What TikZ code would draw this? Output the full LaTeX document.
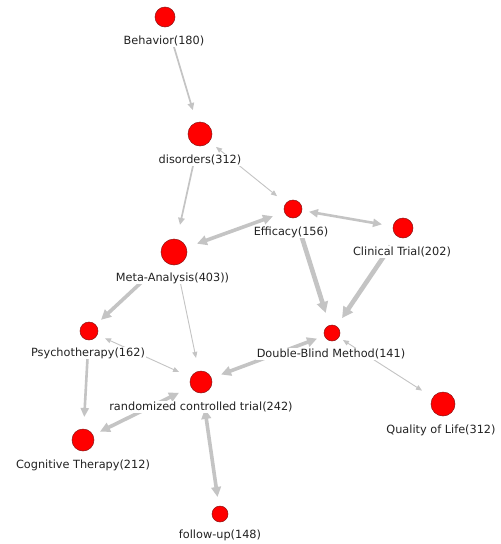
\documentclass[tikz,border=0pt]{standalone}
\usepackage{fontspec}
\setmainfont{DejaVu Sans}
\usetikzlibrary{arrows.meta}
\definecolor{edgegray}{RGB}{196,196,196}
\definecolor{nodered}{RGB}{255,0,0}
\definecolor{nodeedge}{RGB}{140,20,20}
\definecolor{labeltext}{RGB}{34,34,34}
\begin{document}
\begin{tikzpicture}[x=1pt,y=-1pt,
  term/.style={circle,fill=nodered,draw=nodeedge,line width=0.5pt,
    inner sep=0pt,outer sep=0pt,minimum size=#1},
  lab/.style={fill=white,inner sep=0.6pt,text=labeltext,
    font=\fontsize{11.3}{13}\selectfont},
  ew1/.style={draw=edgegray,line width=0.9pt,>={Triangle[length=6pt,width=5pt]}},
  ew2/.style={draw=edgegray,line width=1.7pt,>={Triangle[length=7pt,width=6.5pt]}},
  ew3/.style={draw=edgegray,line width=2.6pt,>={Triangle[length=9pt,width=8pt]}},
  ew4/.style={draw=edgegray,line width=3.6pt,>={Triangle[length=10pt,width=9.5pt]}},
  ew5/.style={draw=edgegray,line width=4.6pt,>={Triangle[length=11pt,width=11pt]}},
]
\fill[white] (0,0) rectangle (501,544);
\useasboundingbox (0,0) rectangle (501,544);

% terms
\node[term=20pt] (beh)  at (165,17)  {};
\node[term=24pt] (dis)  at (200,134) {};
\node[term=18pt] (eff)  at (293,209) {};
\node[term=20pt] (ct)   at (403,228) {};
\node[term=26pt] (meta) at (174,252) {};
\node[term=16pt] (dbm)  at (332,333) {};
\node[term=18pt] (psy)  at (89,331)  {};
\node[term=22pt] (rct)  at (201,382) {};
\node[term=22pt] (cog)  at (83,440)  {};
\node[term=24pt] (qol)  at (443,404) {};
\node[term=16pt] (fu)   at (220,514) {};

% links
\draw[ew2,->,shorten <=14pt,shorten >=13pt]   (beh)  -- (dis);
\draw[ew1,<->,shorten <=8.6pt,shorten >=11.5pt] (dis) -- (eff);
\draw[ew2,->,shorten <=10pt,shorten >=14.8pt] (dis)  -- (meta);
\draw[ew4,<->,shorten <=11.4pt,shorten >=12.3pt] (meta) -- (eff);
\draw[ew3,<->,shorten <=7.2pt,shorten >=11.3pt] (eff) -- (ct);
\draw[ew5,->,shorten <=12pt,shorten >=13pt]   (eff)  -- (dbm);
\draw[ew5,->,shorten <=12pt,shorten >=10pt]   (ct)   -- (dbm);
\draw[ew4,<->,shorten <=17pt,shorten >=7.4pt] (meta) -- (psy);
\draw[ew1,->,shorten <=12pt,shorten >=13.6pt] (meta) -- (rct);
\draw[ew1,<->,shorten <=8.6pt,shorten >=13.1pt] (psy) -- (rct);
\draw[ew3,->,shorten <=12pt,shorten >=12pt]   (psy)  -- (cog);
\draw[ew4,<->,shorten <=13.5pt,shorten >=7.9pt] (rct) -- (cog);
\draw[ew4,<->,shorten <=8pt,shorten >=10.4pt] (dbm)  -- (rct);
\draw[ew4,<->,shorten <=16.2pt,shorten >=9.2pt] (rct) -- (fu);
\draw[ew1,<->,shorten <=5pt,shorten >=12.9pt] (dbm)  -- (qol);

% labels
\node[lab] (behL)  at (164,41)   {Behavior(180)};
\node[lab] (disL)  at (200,160)  {disorders(312)};
\node[lab] (effL)  at (291,232)  {Efficacy(156)};
\node[lab] (ctL)   at (402,252)  {Clinical Trial(202)};
\node[lab] (metaL) at (172.5,278) {Meta-Analysis(403))};
\node[lab] (dbmL)  at (331,354)  {Double-Blind Method(141)};
\node[lab] (psyL)  at (88,353)   {Psychotherapy(162)};
\node[lab] (rctL)  at (201,407)  {randomized controlled trial(242)};
\node[lab] (cogL)  at (83,465)   {Cognitive Therapy(212)};
\node[lab] (qolL)  at (441,430)  {Quality of Life(312)};
\node[lab] (fuL)   at (220,535)  {follow-up(148)};
\end{tikzpicture}
\end{document}
